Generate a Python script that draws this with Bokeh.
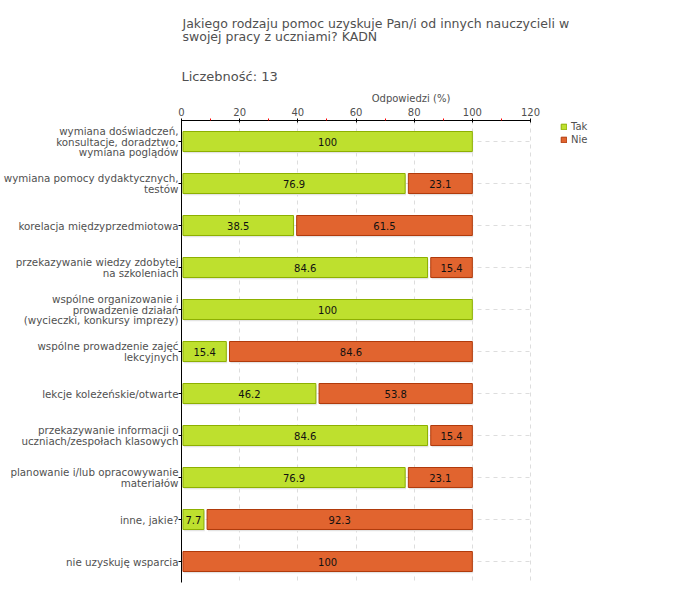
from bokeh.plotting import figure
from bokeh.models import Range1d, FixedTicker, Legend, LegendItem, ColumnDataSource, Title
from bokeh.core.properties import value
from bokeh.embed import file_html
from bokeh.resources import INLINE

# ---------------- data ----------------
title_text = ("Jakiego rodzaju pomoc uzyskuje Pan/i od innych nauczycieli w\n"
              "swojej pracy z uczniami? KADN")
count_text = "Liczebność: 13"
axis_title = "Odpowiedzi (%)"
categories = [
    "wymiana doświadczeń,\nkonsultacje, doradztwo,\nwymiana poglądów",
    "wymiana pomocy dydaktycznych,\ntestów",
    "korelacja międzyprzedmiotowa",
    "przekazywanie wiedzy zdobytej\nna szkoleniach",
    "wspólne organizowanie i\nprowadzenie działań\n(wycieczki, konkursy imprezy)",
    "wspólne prowadzenie zajęć\nlekcyjnych",
    "lekcje koleżeńskie/otwarte",
    "przekazywanie informacji o\nuczniach/zespołach klasowych",
    "planowanie i/lub opracowywanie\nmateriałów",
    "inne, jakie?",
    "nie uzyskuję wsparcia",
]
tak = [100, 76.9, 38.5, 84.6, 100, 15.4, 46.2, 84.6, 76.9, 7.7, 0]
nie = [0, 23.1, 61.5, 15.4, 0, 84.6, 53.8, 15.4, 23.1, 92.3, 100]
series_names = ["Tak", "Nie"]
x_ticks = [0, 20, 40, 60, 80, 100, 120]
x_minor = [10, 30, 50, 70, 90, 110]

# ---------------- style ----------------
FONT = "DejaVu Sans"
GREEN, GREEN_LINE = "#BEE02E", "#8DB000"
ORANGE, ORANGE_LINE = "#E1642F", "#B03A0B"
TEXT = "#505050"
W, H = 680, 596
FL, FT, FB = 181, 120, 582          # frame left / top / bottom (px)
AXIS_END_PX = 530                   # pixel where the axis value 120 sits
FR = 640                            # frame extends right to hold the legend
PX_PER_UNIT = (AXIS_END_PX - FL) / x_ticks[-1]
XMAX = (FR - FL) / PX_PER_UNIT
BAR_H = 0.476
GAP = 1.1      # gap between segments, data units
START = 0.5    # gap from axis, data units

p = figure(width=W, height=H, output_backend="svg", toolbar_location=None,
           title=None,
           x_range=Range1d(0, XMAX), y_range=Range1d(len(categories) - 0.5, -0.5),
           x_axis_location="above",
           min_border_left=FL, min_border_right=W - FR,
           min_border_top=FT, min_border_bottom=H - FB)
p.outline_line_color = None
p.background_fill_color = "white"

xt = FixedTicker(ticks=x_ticks, minor_ticks=x_minor)
p.xaxis.ticker = xt
p.xgrid.ticker = xt
p.xaxis.bounds = (x_ticks[0], x_ticks[-1])
p.xaxis.axis_label = axis_title
p.xaxis.axis_label_text_font = FONT
p.xaxis.axis_label_text_font_size = "10px"
p.xaxis.axis_label_text_font_style = "normal"
p.xaxis.axis_label_text_color = TEXT
p.xaxis.axis_label_standoff = 1
p.xaxis.major_label_text_font = FONT
p.xaxis.major_label_text_font_size = "10px"
p.xaxis.major_label_text_color = TEXT
p.xaxis.major_label_standoff = 3
p.xaxis.major_tick_in = 2
p.xaxis.major_tick_out = 2
p.xaxis.minor_tick_in = 0
p.xaxis.minor_tick_out = 2
p.xaxis.minor_tick_line_color = "red"
p.xaxis.axis_line_color = "black"
p.xaxis.major_tick_line_color = "black"

yt = FixedTicker(ticks=list(range(len(categories))), minor_ticks=[])
p.yaxis.ticker = yt
p.yaxis.major_label_overrides = {i: c for i, c in enumerate(categories)}
p.yaxis.major_label_text_font = FONT
p.yaxis.major_label_text_font_size = "10.3px"
p.yaxis.major_label_text_color = TEXT
p.yaxis.major_label_text_line_height = 0.89
p.yaxis.major_label_text_align = "left"
p.yaxis.major_label_standoff = 0
p.yaxis.major_tick_in = 0
p.yaxis.major_tick_out = 3
p.yaxis.axis_line_color = "black"
p.yaxis.major_tick_line_color = "black"

p.xgrid.grid_line_color = "#dddddd"
p.xgrid.grid_line_dash = "4 4"
p.ygrid.grid_line_color = None

# horizontal dashed guides at each category, limited to the axis extent
n = len(categories)
p.segment(x0=[x_ticks[0]] * n, x1=[x_ticks[-1]] * n,
          y0=list(range(n)), y1=list(range(n)),
          line_color="#dddddd", line_dash="4 4", line_width=1)

# ---------------- bars ----------------
tk = dict(y=[], left=[], right=[], tx=[], tt=[])
nk = dict(y=[], left=[], right=[], tx=[], tt=[])
for i, (a, b) in enumerate(zip(tak, nie)):
    if a > 0:
        tk["y"].append(i); tk["left"].append(START); tk["right"].append(a)
        tk["tx"].append((START + a) / 2); tk["tt"].append(f"{a:g}")
    if b > 0:
        l = a + GAP if a > 0 else START
        r = a + b
        nk["y"].append(i); nk["left"].append(l); nk["right"].append(r)
        nk["tx"].append((l + r) / 2); nk["tt"].append(f"{b:g}")

src_t = ColumnDataSource(tk)
src_n = ColumnDataSource(nk)

# subtle shadows
for src in (src_t, src_n):
    sh = ColumnDataSource(dict(y=[v + 0.04 for v in src.data["y"]],
                               left=[v + 0.3 for v in src.data["left"]],
                               right=[v + 0.3 for v in src.data["right"]]))
    p.hbar(y="y", left="left", right="right", height=BAR_H, source=sh,
           fill_color="#e4e4e4", line_color=None)

rt = p.hbar(y="y", left="left", right="right", height=BAR_H, source=src_t,
            fill_color=GREEN, line_color=GREEN_LINE, line_width=1)
rn = p.hbar(y="y", left="left", right="right", height=BAR_H, source=src_n,
            fill_color=ORANGE, line_color=ORANGE_LINE, line_width=1)

for src in (src_t, src_n):
    p.text(x="tx", y="y", text="tt", source=src, text_font=value(FONT),
           text_font_size="10px", text_color="#111111",
           text_align="center", text_baseline="middle")

# ---------------- titles ----------------
p.add_layout(Title(text=count_text, align="left", offset=0, standoff=12,
                   vertical_align="bottom",
                   text_font=FONT, text_font_size="13px", text_color=TEXT,
                   text_font_style="normal"), "above")
p.add_layout(Title(text=title_text, align="left", offset=1, standoff=29,
                   vertical_align="top",
                   text_font=FONT, text_font_size="12.5px", text_color=TEXT,
                   text_font_style="normal", text_line_height=0.86), "above")

# ---------------- legend ----------------
LEG_ROW, LEG_SP = 11, 2
leg_h = 2 * LEG_ROW + LEG_SP
legend = Legend(items=[LegendItem(label=series_names[0], renderers=[rt]),
                       LegendItem(label=series_names[1], renderers=[rn])],
                location=(560 - FL, FB - (FT + 0.5 + leg_h)),
                padding=0, margin=0, spacing=LEG_SP,
                glyph_width=7, glyph_height=7, label_height=LEG_ROW,
                label_standoff=4, label_text_font=FONT,
                label_text_font_size="10px", label_text_color=TEXT,
                border_line_color=None, background_fill_alpha=0)
p.add_layout(legend)

open("out.html", "w").write(file_html(p, INLINE))
